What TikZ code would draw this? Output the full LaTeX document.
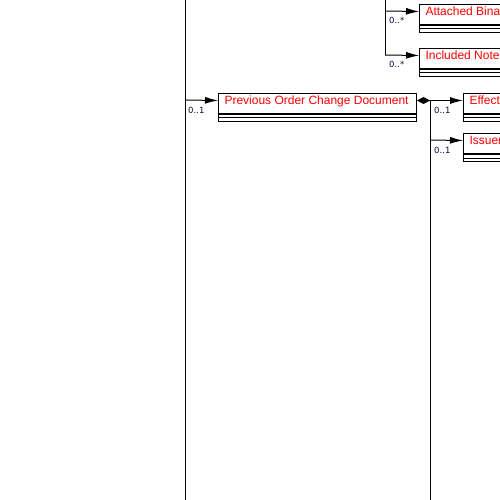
\documentclass[tikz,border=0pt]{standalone}
\usepackage{fontspec}
\setmainfont{Liberation Sans}
\newfontfamily\lblfont{DejaVu Sans}
\usetikzlibrary{arrows.meta,calc}
\definecolor{multc}{RGB}{10,10,60}
\definecolor{namec}{RGB}{255,0,0}
\newcommand{\clsname}[2]{\makebox[#1][l]{#2}}
\begin{document}
\begin{tikzpicture}[x=1pt,y=-1pt,
 cls/.style={draw, line width=1pt, rectangle, anchor=north west, inner xsep=6pt, inner ysep=0pt,
   text=namec, font=\fontsize{12pt}{14pt}\selectfont, text height=9pt, text depth=7pt, minimum height=20pt},
 comp/.style={draw, line width=1pt, rectangle, anchor=north west, minimum height=7pt, inner sep=0pt},
 conn/.style={line width=1pt},
 arr/.style={conn, -{Latex[length=13pt,width=7pt]}},
 mult/.style={anchor=west, font=\lblfont\fontsize{8.5pt}{10pt}\selectfont, text=multc, inner sep=0pt},
]
\useasboundingbox (0,0) rectangle (500,500);
\clip (0,0) rectangle (500,500);

% class boxes
\node[cls] (prev) at (218,93) {\clsname{186pt}{Previous Order Change Document}};
\node[comp, minimum width=198pt] (prevc) at (prev.south west) {};
\draw[conn] (prevc.west) -- (prevc.east);

\node[cls] (att) at (419,4) {\clsname{110pt}{Attached Bina}};
\node[comp, minimum width=122pt] (attc) at (att.south west) {};
\draw[conn] (attc.west) -- (attc.east);

\node[cls] (inc) at (419,48) {\clsname{110pt}{Included Note}};
\node[comp, minimum width=122pt] (incc) at (inc.south west) {};
\draw[conn] (incc.west) -- (incc.east);

\node[cls] (eff) at (463,93) {\clsname{110pt}{Effect}};
\node[comp, minimum width=122pt] (effc) at (eff.south west) {};
\draw[conn] (effc.west) -- (effc.east);

\node[cls] (iss) at (463,133) {\clsname{110pt}{Issuer}};
\node[comp, minimum width=122pt] (issc) at (iss.south west) {};
\draw[conn] (issc.west) -- (issc.east);

% left trunk
\coordinate (lt) at (185,0);
\coordinate (lb) at (185,500);
\coordinate (jp) at (185,100);
\draw[conn] (lt) -- (lb);
\draw[arr] (jp) -- ([yshift=3pt]prev.west);
\node[mult] (mp) at (188,110) {0..1};

% top trunk
\coordinate (tt) at (385,0);
\coordinate (ja) at (385,11);
\coordinate (tb) at (385,55);
\draw[conn] (tt) -- (tb);
\draw[arr] (ja) -- ([yshift=3pt]att.west);
\draw[arr] (tb) -- ([yshift=3pt]inc.west);
\node[mult] (ma) at (389,20) {0..*};
\node[mult] (mi) at (389,64) {0..*};

% right trunk
\draw[conn, {Diamond[length=13pt,width=7pt]}-{Latex[length=13pt,width=7pt]}] ([yshift=3pt]prev.east) -- ([yshift=3pt]eff.west);
\coordinate (rt) at (430,100);
\coordinate (ji) at (430,140);
\coordinate (rb) at (430,500);
\draw[conn] (rt) -- (rb);
\draw[arr] (ji) -- ([yshift=3pt]iss.west);
\node[mult] (me) at (434,110) {0..1};
\node[mult] (ms) at (434,150) {0..1};
\end{tikzpicture}
\end{document}
